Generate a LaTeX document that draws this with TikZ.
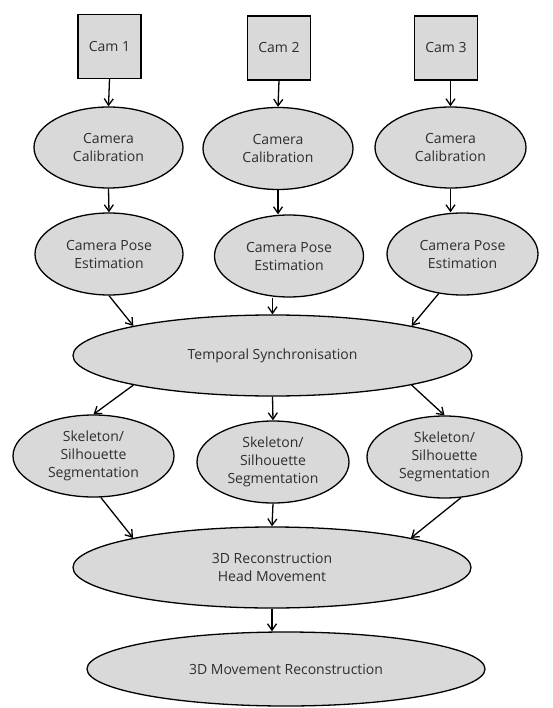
\documentclass[tikz,border=0pt]{standalone}
\usepackage{fontspec}
\setmainfont{Open Sans}
\usetikzlibrary{shapes.geometric,arrows.meta}
\definecolor{boxfill}{HTML}{D9D9D9}
\definecolor{txt}{HTML}{2E2E2E}
\tikzset{
  base/.style={draw=black, line width=1.3pt, fill=boxfill, text=txt, inner sep=0pt, align=center,
    font=\fontsize{14}{18}\selectfont},
  cambox/.style={base, rectangle, minimum width=63pt, minimum height=64pt},
  oval/.style={base, ellipse},
  arr/.style={line width=1.3pt, -{Straight Barb[length=6.5pt,width=9pt,line width=1.3pt]}}
}
\begin{document}
\begin{tikzpicture}[x=1pt,y=-1pt]
\useasboundingbox (0,0) rectangle (553,708);
% cameras
\node[cambox] (cam1) at (109.5,46.5) {Cam 1};
\node[cambox] (cam2) at (279,48) {Cam 2};
\node[cambox] (cam3) at (446,48) {Cam 3};
% calibration
\node[oval, minimum width=149pt, minimum height=81pt] (cal1) at (108.5,147.5) {Camera\\Calibration};
\node[oval, minimum width=150pt, minimum height=82pt] (cal2) at (278,148.5) {Camera\\Calibration};
\node[oval, minimum width=151pt, minimum height=81pt] (cal3) at (450.5,147.5) {Camera\\Calibration};
% pose
\node[oval, minimum width=148pt, minimum height=82pt] (pose1) at (109,254) {Camera Pose\\Estimation};
\node[oval, minimum width=149pt, minimum height=82pt] (pose2) at (289,256) {Camera Pose\\Estimation};
\node[oval, minimum width=151pt, minimum height=82pt] (pose3) at (462.5,254) {Camera Pose\\Estimation};
% temporal
\node[oval, minimum width=399pt, minimum height=81pt] (temp) at (272.5,355.5) {Temporal Synchronisation};
% skeleton
\node[oval, minimum width=161pt, minimum height=82pt] (sk1) at (93.5,456) {Skeleton/\\Silhouette\\Segmentation};
\node[oval, minimum width=152pt, minimum height=82pt] (sk2) at (273,462) {Skeleton/\\Silhouette\\Segmentation};
\node[oval, minimum width=155pt, minimum height=82pt] (sk3) at (444.5,457) {Skeleton/\\Silhouette\\Segmentation};
% reconstruction
\node[oval, minimum width=398pt, minimum height=81pt] (recon) at (272,567.5) {3D Reconstruction\\Head Movement};
\node[oval, minimum width=398pt, minimum height=74pt] (final) at (286,669) {3D Movement Reconstruction};
% arrows
\draw[arr] (cam1.south) -- (cal1.north);
\draw[arr] (cam2.south) -- (cal2.north);
\draw[arr] (cal3.north |- cam3.south) -- (cal3.north);
\draw[arr] (cal1.south) -- (pose1.north);
\draw[arr] (cal2.south) -- (cal2.south |- pose2.north);
\draw[arr] (cal3.south) -- (cal3.south |- pose3.north);
\draw[arr] (pose1.south) -- (temp.168);
\draw[arr] (temp.north |- pose2.south) -- (temp.north);
\draw[arr] (pose3.-121) -- (temp.12);
\draw[arr] (temp.192) -- (sk1.north);
\draw[arr] (temp.south) -- (sk2.north);
\draw[arr] (temp.-12) -- (sk3.north);
\draw[arr] (sk1.-80) -- (recon.168);
\draw[arr] (sk2.south) -- (recon.north);
\draw[arr] (sk3.-68) -- (recon.12);
\draw[arr] (recon.south) -- (recon.south |- final.north);
\end{tikzpicture}
\end{document}
